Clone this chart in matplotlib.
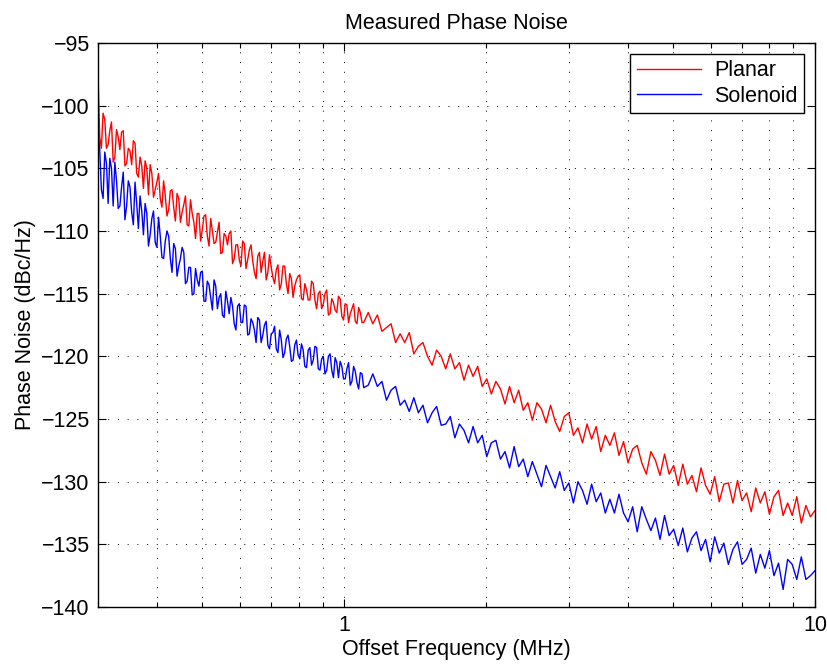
import numpy as np
import matplotlib
matplotlib.use('Agg')
import matplotlib.pyplot as plt
from matplotlib.ticker import LogLocator, FixedLocator, NullFormatter, FuncFormatter

plt.rcParams['font.family'] = ['Liberation Sans', 'DejaVu Sans']
plt.rcParams['axes.unicode_minus'] = True

# sweep segments (MHz): dense low band, coarser high band
f_lo_start, f_lo_stop = 0.3, 1.1
f_hi_start, f_hi_stop = 1.1, 10.0

# phase noise readings (dBc/Hz)
planar_lo = [-97.6, -102.5, -103.4, -100.6, -101.1, -103.4, -103.1, -102.0, -101.3, -104.5,
             -104.1, -101.9, -102.5, -103.5, -102.1, -102.0, -104.8, -104.6, -103.4, -103.6,
             -104.7, -102.8, -103.0, -105.4, -105.7, -104.1, -104.8, -106.6, -104.4, -105.0,
             -107.1, -104.7, -105.4, -107.3, -106.7, -106.1, -105.4, -107.4, -108.1, -106.0,
             -107.2, -108.8, -108.3, -106.8, -106.7, -108.1, -109.2, -107.0, -107.4, -109.3,
             -108.5, -107.9, -107.2, -109.5, -109.6, -107.5, -108.6, -109.3, -110.6, -108.6,
             -108.6, -110.8, -109.9, -108.8, -108.7, -110.4, -111.2, -109.0, -110.0, -111.0,
             -110.9, -110.1, -109.3, -111.8, -111.7, -110.2, -110.4, -111.1, -110.2, -110.0,
             -112.6, -112.2, -111.1, -111.1, -112.3, -112.8, -110.8, -111.0, -113.0, -112.3,
             -111.5, -111.1, -112.4, -113.3, -113.8, -112.0, -111.7, -113.3, -112.4, -111.7,
             -113.9, -113.3, -111.9, -112.9, -113.7, -114.2, -113.1, -112.7, -114.7, -114.2,
             -112.8, -112.8, -114.2, -115.0, -113.4, -113.8, -115.3, -114.4, -113.9, -113.6,
             -113.5, -115.4, -115.5, -114.2, -114.7, -115.5, -115.5, -114.0, -114.2, -115.5,
             -116.2, -115.0, -114.8, -116.2, -115.8, -115.0, -114.7, -116.7, -116.6, -115.4,
             -115.7, -116.3, -116.5, -115.2, -115.4, -116.8, -117.1, -115.8, -115.9, -117.3,
             -116.6, -116.2, -115.8, -117.2, -117.4, -116.1, -116.5, -117.3, -117.3]
planar_hi = [-116.8, -116.5, -117.4, -116.7, -118.0, -117.7, -117.4, -118.9, -118.2, -118.9,
             -118.1, -119.8, -119.2, -118.9, -120.0, -120.7, -119.5, -120.0, -121.0, -119.8,
             -121.0, -120.5, -121.9, -120.7, -121.6, -120.8, -122.4, -121.8, -123.0, -122.0,
             -122.6, -123.8, -122.4, -123.7, -122.7, -124.3, -123.7, -125.1, -123.7, -124.2,
             -125.3, -123.9, -125.2, -126.0, -124.8, -124.5, -126.3, -125.7, -126.9, -125.4,
             -126.6, -125.6, -127.6, -126.3, -127.1, -126.1, -127.9, -126.8, -128.5, -127.4,
             -127.1, -128.5, -129.4, -127.6, -128.3, -129.5, -127.8, -129.4, -128.7, -130.3,
             -128.6, -130.2, -129.5, -130.8, -128.9, -130.3, -131.0, -129.6, -131.6, -130.2,
             -130.1, -131.7, -129.9, -131.5, -130.9, -132.4, -130.5, -131.7, -130.8, -132.6,
             -131.2, -130.7, -132.7, -131.7, -132.7, -131.2, -133.3, -131.9, -132.8, -132.3]
solenoid_lo = [-102.0, -103.5, -106.7, -107.4, -103.7, -104.6, -107.8, -104.2, -105.0, -108.0,
               -104.5, -106.0, -108.2, -108.0, -106.5, -105.3, -109.1, -108.0, -106.0, -106.5,
               -108.5, -109.5, -106.1, -107.8, -109.8, -107.2, -108.4, -110.3, -107.8, -108.6,
               -111.2, -110.3, -109.0, -108.4, -110.9, -111.3, -108.9, -110.4, -112.1, -112.2,
               -110.8, -110.0, -110.4, -112.2, -113.3, -111.0, -111.4, -113.6, -112.8, -112.2,
               -111.3, -111.7, -114.2, -114.0, -112.9, -112.9, -115.1, -115.0, -113.0, -113.9,
               -114.4, -113.3, -113.2, -115.6, -115.6, -114.0, -114.3, -115.3, -116.3, -113.9,
               -114.4, -116.2, -115.3, -115.0, -116.7, -116.9, -114.8, -115.6, -116.6, -115.3,
               -116.0, -117.4, -117.9, -116.0, -115.8, -117.3, -117.3, -115.9, -116.0, -118.3,
               -118.2, -117.0, -117.3, -117.9, -118.9, -116.9, -117.1, -118.9, -118.3, -117.5,
               -117.2, -119.1, -119.4, -118.2, -118.1, -117.6, -119.4, -119.7, -117.9, -118.7,
               -120.1, -119.7, -118.6, -118.3, -119.2, -120.4, -120.3, -119.1, -118.7, -119.9,
               -120.2, -119.0, -119.5, -120.8, -120.9, -119.5, -119.3, -120.7, -120.3, -119.2,
               -119.3, -121.0, -121.1, -120.2, -120.0, -121.4, -121.1, -120.0, -119.8, -121.1,
               -121.7, -120.1, -120.5, -121.7, -120.4, -120.8, -121.8, -121.8, -121.0, -120.5,
               -122.3, -122.0, -120.8, -121.2, -122.1, -122.6, -121.3, -121.4, -122.5]
solenoid_hi = [-121.5, -122.3, -121.4, -122.4, -122.0, -123.5, -122.7, -122.4, -123.9, -123.5,
               -124.4, -123.3, -124.5, -123.9, -125.3, -124.5, -124.0, -125.5, -125.4, -124.8,
               -126.5, -125.4, -125.9, -126.9, -125.6, -126.9, -126.3, -128.0, -126.9, -126.7,
               -128.2, -127.6, -128.9, -127.2, -128.8, -128.2, -129.6, -128.4, -129.4, -130.4,
               -128.7, -129.6, -130.5, -129.2, -130.7, -130.1, -131.7, -130.0, -130.7, -131.8,
               -130.2, -131.6, -130.9, -132.5, -131.4, -132.5, -131.0, -132.5, -133.2, -132.0,
               -134.0, -132.0, -133.0, -133.9, -132.9, -134.6, -132.7, -134.3, -133.8, -135.1,
               -133.7, -135.6, -134.5, -134.0, -135.5, -134.6, -136.4, -134.4, -135.7, -134.9,
               -136.6, -135.4, -134.8, -136.6, -136.2, -135.3, -137.3, -135.8, -136.9, -135.5,
               -137.5, -136.5, -138.6, -136.2, -136.6, -137.8, -136.0, -137.8, -137.5, -137.1]

f_lo = np.geomspace(f_lo_start, f_lo_stop, len(planar_lo))
f_hi = np.geomspace(f_hi_start, f_hi_stop, len(planar_hi))
freq = np.concatenate([f_lo, f_hi[1:]])
planar = np.concatenate([planar_lo, planar_hi[1:]])
solenoid = np.concatenate([solenoid_lo, solenoid_hi[1:]])

y_ticks = np.arange(-140, -94, 5)
fs = 15.5

fig = plt.figure(figsize=(8.28, 6.68), dpi=100)
ax = fig.add_axes([0.1184, 0.0913, 0.8659, 0.8443])

ax.semilogx(freq, planar, color='#ff0000', lw=1.0, label='Planar')
ax.semilogx(freq, solenoid, color='#0000ff', lw=1.0, label='Solenoid')

ax.set_xlim(0.3, 10)
ax.set_ylim(-140, -95)
ax.xaxis.set_major_locator(FixedLocator([1, 10]))
ax.xaxis.set_major_formatter(FuncFormatter(lambda v, p: '%g' % v))
ax.xaxis.set_minor_locator(LogLocator(base=10, subs=np.arange(2, 10), numticks=10))
ax.xaxis.set_minor_formatter(NullFormatter())
ax.set_yticks(y_ticks)

dots = (0, (1.0, 9.0))
ax.grid(True, which='major', color='k', lw=0.7, linestyle=dots)
ax.grid(True, which='minor', axis='x', color='k', lw=0.7, linestyle=dots)

ax.tick_params(which='both', direction='in', top=True, right=True, labelsize=fs, width=0.8)
ax.tick_params(which='major', length=6, pad=6)
ax.tick_params(which='minor', length=3.5)
for s in ax.spines.values():
    s.set_linewidth(1.0)

ax.set_title('Measured Phase Noise', fontsize=fs, pad=10)
ax.set_xlabel('Offset Frequency (MHz)', fontsize=fs, labelpad=2)
ax.set_ylabel('Phase Noise (dBc/Hz)', fontsize=fs, labelpad=4)

leg = ax.legend(loc='upper right', fontsize=fs, fancybox=False, framealpha=1,
                edgecolor='k', handlelength=3.0, borderaxespad=0.5,
                borderpad=0.3, labelspacing=0.2, handletextpad=0.6)
leg.get_frame().set_linewidth(1.0)

fig.savefig('out.png', dpi=100)
